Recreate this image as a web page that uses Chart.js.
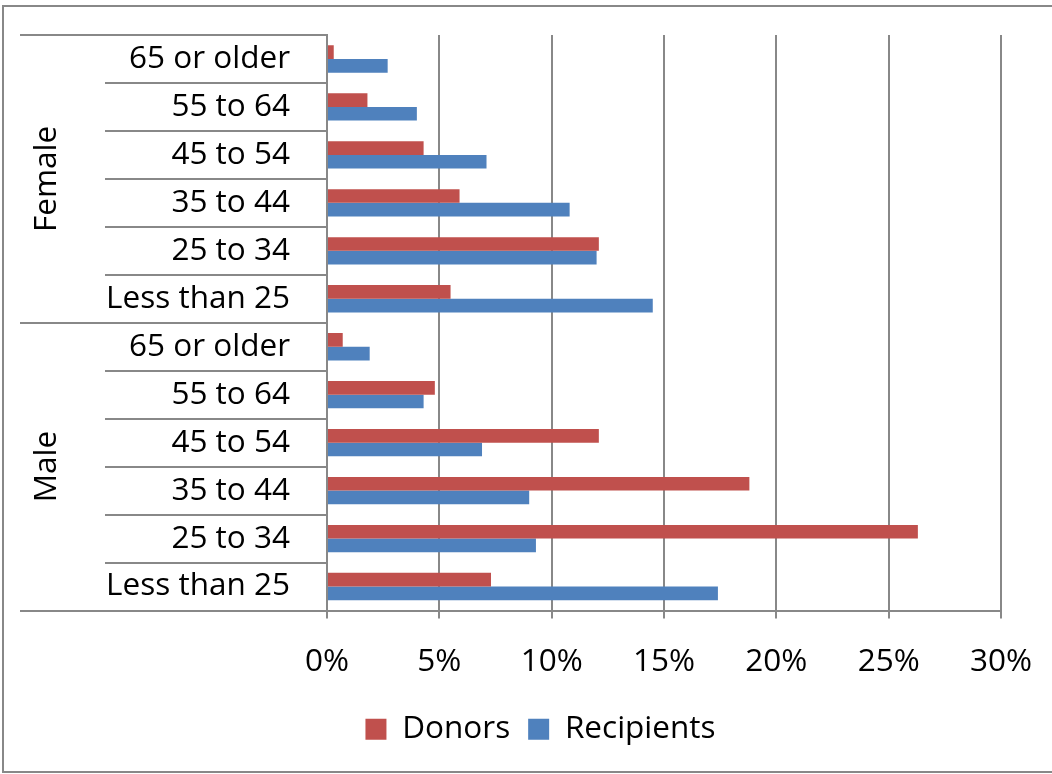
<!DOCTYPE html>
<html>
<head>
<meta charset="utf-8">
<script src="https://cdn.jsdelivr.net/npm/chart.js@4.4.0/dist/chart.umd.min.js"></script>
<style>
  html, body { margin: 0; padding: 0; background: #fff; }
  #wrap { width: 1052px; height: 774px; }
</style>
</head>
<body>
<div id="wrap"><canvas id="genderChart" width="1052" height="774"></canvas></div>
<script>
// data (percent)
const ageGroups = ["65 or older", "55 to 64", "45 to 54", "35 to 44", "25 to 34", "Less than 25"];
const genders = ["Female", "Male"];
const categories = [...ageGroups, ...ageGroups];
const donors = [0.3, 1.8, 4.3, 5.9, 12.1, 5.5, 0.7, 4.8, 12.1, 18.8, 26.3, 7.3];
const recipients = [2.7, 4.0, 7.1, 10.8, 12.0, 14.5, 1.9, 4.3, 6.9, 9.0, 9.3, 17.4];
const xMin = 0, xMax = 30, xStep = 5;

const gridColor = "#888888";
const fontFam = '"Open Sans", sans-serif';
const fontSize = 31.5;

// group labels + label table lines + outer frame
const groupLines = {
    id: "groupLines",
    afterDraw(chart) {
        const ctx = chart.ctx;
        const y = chart.scales.y;
        const left = chart.chartArea.left;
        ctx.save();
        ctx.strokeStyle = gridColor;
        ctx.lineWidth = 2;
        for (let i = 0; i <= categories.length; i++) {
            const py = Math.round(y.getPixelForValue(i - 0.5));
            const isGroup = i % ageGroups.length === 0;
            ctx.beginPath();
            ctx.moveTo(isGroup ? 20 : 105, py);
            ctx.lineTo(left, py);
            ctx.stroke();
        }
        ctx.fillStyle = "#000";
        ctx.font = fontSize + "px " + fontFam;
        ctx.textAlign = "center";
        ctx.textBaseline = "middle";
        genders.forEach((g, k) => {
            const a = y.getPixelForValue(k * ageGroups.length - 0.5);
            const b = y.getPixelForValue((k + 1) * ageGroups.length - 0.5);
            ctx.save();
            ctx.translate(47, (a + b) / 2);
            ctx.rotate(-Math.PI / 2);
            ctx.fillText(g, 0, 0);
            ctx.restore();
        });
        ctx.strokeRect(3, 6, 1100, 766);
        ctx.restore();
    }
};

new Chart(document.getElementById("genderChart"), {
    type: "bar",
    data: {
        labels: categories,
        datasets: [
            { label: "Donors", data: donors, backgroundColor: "#C0504D" },
            { label: "Recipients", data: recipients, backgroundColor: "#4F81BD" }
        ]
    },
    options: {
        indexAxis: "y",
        responsive: false,
        animation: false,
        categoryPercentage: 0.57,
        barPercentage: 1.0,
        layout: { padding: { top: 35, right: 51, bottom: 19, left: 80 } },
        scales: {
            x: {
                min: xMin,
                max: xMax,
                ticks: {
                    stepSize: xStep,
                    padding: 25,
                    color: "#000",
                    font: { family: fontFam, size: fontSize },
                    callback: v => v + "%"
                },
                grid: { color: gridColor, lineWidth: 2, tickLength: 8 },
                border: { color: gridColor, width: 2 },
                afterFit(scale) {
                    scale.height = 85;
                    scale.paddingLeft = 0;
                    scale.paddingRight = 0;
                }
            },
            y: {
                ticks: {
                    padding: 37,
                    color: "#000",
                    font: { family: fontFam, size: fontSize }
                },
                grid: { drawOnChartArea: false, drawTicks: false },
                border: { color: gridColor, width: 2 },
                afterFit(scale) {
                    scale.width = 247;
                    scale.paddingTop = 0;
                    scale.paddingBottom = 0;
                }
            }
        },
        plugins: {
            legend: {
                position: "bottom",
                labels: {
                    boxWidth: 21,
                    boxHeight: 21,
                    padding: 18,
                    color: "#000",
                    font: { family: fontFam, size: fontSize }
                }
            },
            tooltip: { enabled: false }
        }
    },
    plugins: [groupLines]
});
</script>
</body>
</html>
